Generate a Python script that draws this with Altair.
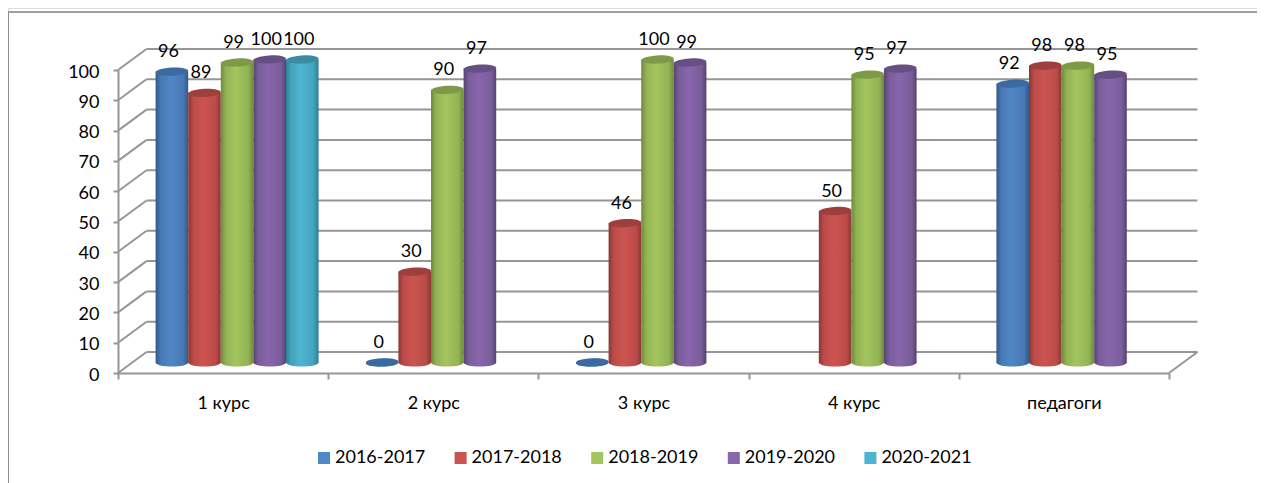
import altair as alt
import pandas as pd

categories = ["1 курс", "2 курс", "3 курс", "4 курс", "педагоги"]
series = ["2016-2017", "2017-2018", "2018-2019", "2019-2020", "2020-2021"]
values_2016 = [96, 0, 0, None, 92]
values_2017 = [89, 30, 46, 50, 98]
values_2018 = [99, 90, 100, 95, 98]
values_2019 = [100, 97, 99, 97, 95]
values_2020 = [100, None, None, None, None]
all_values = [values_2016, values_2017, values_2018, values_2019, values_2020]
ticks = list(range(0, 101, 10))

base_colors = ["#5087C6", "#CB5450", "#A3C45E", "#8866AB", "#4EB5D0"]
edge_colors = ["#33598A", "#8A3735", "#6E8A3C", "#57426F", "#2F7F95"]
mid_colors = ["#4779B5", "#BC4C49", "#93B355", "#7A5E9B", "#44A3BD"]
cap_colors = ["#3C6A9E", "#9C3F3D", "#7E9A47", "#664F84", "#3B8BA1"]

FONT = "Lato"
GRAY = "#969696"
W, H = 1249, 475
X0, X1 = 110, 1161
Y0, Y100 = 365, 62
DX, DY = 28.5, 21
MID_DX, MID_DY = 14, 10.5
BAR_W = 32.6
ELLIPSE = "M-1,0 A1,0.25 0 1 1 1,0 A1,0.25 0 1 1 -1,0 Z"

rows = []
for s, vals in zip(series, all_values):
    for c, v in zip(categories, vals):
        if v is not None:
            rows.append({"cat": c, "series": s, "v": v, "base": 0})
df = pd.DataFrame(rows)
grid_df = pd.DataFrame({"v": ticks})

xscale = alt.Scale(domain=categories, range=[X0, X1], paddingInner=0, paddingOuter=0)
yscale = alt.Scale(domain=[0, 100], range=[Y0, Y100], nice=False, zero=False)
xaxis = alt.Axis(
    title=None, orient="bottom", offset=Y0 - H, tickBand="extent", labelAngle=0,
    domainColor=GRAY, domainWidth=2, tickColor=GRAY, tickWidth=2, tickSize=6,
    labelFont=FONT, labelFontSize=18, labelColor="#000000", labelPadding=15, grid=False,
)
yaxis = alt.Axis(
    title=None, orient="left", offset=-X0, values=ticks, domainColor=GRAY, domainWidth=2,
    tickColor=GRAY, tickWidth=2, tickSize=5, labelFont=FONT, labelFontSize=18,
    labelColor="#000000", labelPadding=14, labelOffset=2, grid=False,
)
X = alt.X("cat:N", sort=categories, scale=xscale, axis=xaxis)
Y = alt.Y("v:Q", scale=yscale, axis=yaxis, stack=None)
Y_BASE = alt.Y("base:Q", scale=yscale, axis=yaxis, stack=None)

frame_top = alt.Chart(grid_df.head(1)).mark_rule(color="#9E9E9E", strokeWidth=2).encode(
    x=alt.value(0), x2=alt.value(W), y=alt.value(4))
frame_left = alt.Chart(grid_df.head(1)).mark_rule(color="#8C8C8C", strokeWidth=2).encode(
    x=alt.value(0), y=alt.value(4), y2=alt.value(H))

grid = alt.Chart(grid_df).mark_rule(color=GRAY, strokeWidth=2, yOffset=-DY).encode(
    x=alt.value(X0 + DX), x2=alt.value(X1 + DX), y=Y)
depth_left = alt.Chart(grid_df).mark_rule(color=GRAY, strokeWidth=2, y2Offset=-DY).encode(
    x=alt.value(X0), x2=alt.value(X0 + DX), y=Y, y2=alt.Y2("v:Q"))
depth_right = alt.Chart(grid_df.head(1)).mark_rule(color=GRAY, strokeWidth=2, y2Offset=-DY).encode(
    x=alt.value(X1), x2=alt.value(X1 + DX), y=Y, y2=alt.Y2("v:Q"))

legend_bars = alt.Chart(df).mark_bar(width=BAR_W, xOffset=0, opacity=0).encode(
    x=X, y=Y, y2=alt.Y2("base:Q"),
    color=alt.Color(
        "series:N", sort=series,
        scale=alt.Scale(domain=series, range=base_colors),
        legend=alt.Legend(
            title=None, orient="none", legendX=307, legendY=441, direction="horizontal",
            columns=5, symbolType="square", symbolSize=144, symbolOpacity=1,
            symbolStrokeWidth=0, labelFont=FONT, labelFontSize=18, labelColor="#000000",
            columnPadding=25.6, labelOffset=2, symbolOffset=0,
        ),
    ),
)

layers = [frame_top, frame_left, grid, depth_left, depth_right, legend_bars]
for j, s in enumerate(series):
    sub = df[df["series"] == s]
    off = (j - 2) * BAR_W + MID_DX
    gradient = alt.Gradient(
        gradient="linear", x1=0, x2=1, y1=0, y2=0,
        stops=[
            alt.GradientStop(color=edge_colors[j], offset=0),
            alt.GradientStop(color=mid_colors[j], offset=0.16),
            alt.GradientStop(color=base_colors[j], offset=0.45),
            alt.GradientStop(color=mid_colors[j], offset=0.84),
            alt.GradientStop(color=edge_colors[j], offset=1),
        ],
    )
    bottom = alt.Chart(sub).mark_point(
        shape=ELLIPSE, size=BAR_W ** 2, filled=True, fill=gradient, strokeWidth=0, opacity=1,
        xOffset=off, yOffset=-MID_DY,
    ).encode(x=X, y=Y_BASE)
    body = alt.Chart(sub).mark_bar(
        width=BAR_W, fill=gradient, xOffset=off, yOffset=-MID_DY, y2Offset=-MID_DY,
    ).encode(x=X, y=Y, y2=alt.Y2("base:Q"))
    cap = alt.Chart(sub).mark_point(
        shape=ELLIPSE, size=BAR_W ** 2, filled=True, fill=cap_colors[j], strokeWidth=0, opacity=1,
        xOffset=off, yOffset=-MID_DY, angle=357,
    ).encode(x=X, y=Y)
    label = alt.Chart(sub).mark_text(
        font=FONT, fontSize=18, color="#000000", baseline="middle", align="center",
        xOffset=off - 3.5, yOffset=-MID_DY - 19.5,
    ).encode(x=X, y=Y, text="v:Q")
    layers += [bottom, body, cap]
    layers.append(label)

# labels above every bar
texts = [l for l in layers if l.mark.type == "text"]
others = [l for l in layers if l.mark.type != "text"]

chart = alt.layer(*others, *texts).properties(
    width=W, height=H, padding=0,
    autosize=alt.AutoSizeParams(type="none"),
).configure_view(stroke=None).configure(background="white")

chart.save("out.html", embed_options={"renderer": "svg", "actions": False})
